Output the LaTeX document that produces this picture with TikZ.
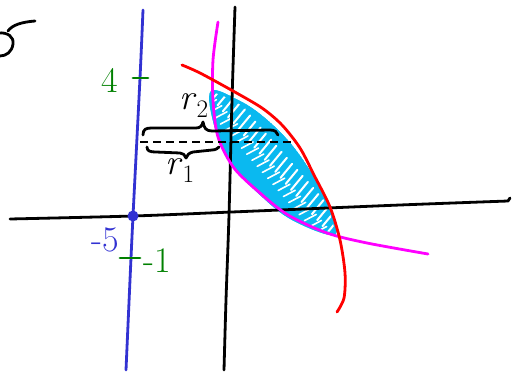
\documentclass[tikz,border=0pt]{standalone}
\usetikzlibrary{calc}
\definecolor{penblue}{RGB}{50,50,210}
\definecolor{pengreen}{RGB}{0,128,0}
\definecolor{penmag}{RGB}{255,0,255}
\definecolor{penred}{RGB}{255,0,0}
\definecolor{pencyan}{RGB}{10,185,240}
\tikzset{
  pen/.style={line width=2.8pt, line cap=round, line join=round},
  axis/.style={pen, black},
  lbl/.style={inner sep=0pt, font=\fontsize{36}{38}\selectfont},
}
\begin{document}
\begin{tikzpicture}[x=1pt,y=-1pt]
\useasboundingbox (0,0) rectangle (518,377);
% partial "5" at top left
\draw[axis] (35,21) .. controls (22,22) and (12,25) .. (8,31);
\draw[axis] (-2,33) .. controls (8,32) and (14,37) .. (13,44) .. controls (12,52) and (6,56) .. (0,56);
% shaded lens
\begin{scope}
  \clip plot[smooth cycle, tension=0.6] coordinates {(211,91) (214,125) (230,163) (260,195) (292,220) (334,235) (332,210) (316,180) (292,145) (265,118) (240,101)};
  \fill[pencyan] plot[smooth cycle, tension=0.6] coordinates {(211,91) (214,125) (230,163) (260,195) (292,220) (334,235) (332,210) (316,180) (292,145) (265,118) (240,101)};
  \begin{scope}[shift={(212,93)}, rotate=-49]
    \foreach \i in {0,...,24} {
      \draw[white, line width=2pt, line cap=round] (\i*8+2,-14) -- (\i*8+5,4);
      \draw[white, line width=1.6pt, line cap=round] (\i*8+5,14) -- (\i*8+8,1);
    }
  \end{scope}
  \draw[pencyan, line width=6pt] plot[smooth cycle, tension=0.6] coordinates {(211,91) (214,125) (230,163) (260,195) (292,220) (334,235) (332,210) (316,180) (292,145) (265,118) (240,101)};
\end{scope}
% axes
\draw[axis] plot[smooth] coordinates {(10,219) (133,216) (232,212) (400,205) (508,201)} -- (510,198);
\draw[axis] plot[smooth] coordinates {(235,7) (232,100) (229,215) (226,300) (224,370)};
% blue vertical line
\draw[pen, penblue] plot[smooth] coordinates {(143,10) (140,78) (133,216) (130,280) (126,370)};
% magenta curve
\draw[pen, penmag] plot[smooth] coordinates {(218,22) (213,60) (213,100) (218,137) (234,168) (260,193) (288,215) (327,233) (367,243) (428,254)};
% red curve
\draw[pen, penred] plot[smooth] coordinates {(182,65) (200,73) (233,91) (262,108) (282,125) (300,148) (314,175) (330,207) (340,240) (345,273) (344,298) (337,312)};
% braces and dashed line
\draw[axis] (143,135) .. controls (143,129) and (146,128) .. (152,128) -- (196,128) .. controls (200,128) and (202,126) .. (203,122) .. controls (204,128) and (206,131) .. (212,131) -- (270,130) .. controls (275,130) and (277,132) .. (278,135);
\draw[axis, line cap=butt, dash pattern=on 8pt off 5pt] (140,142) -- (292,142);
\draw[axis] (147,147) .. controls (147,151) and (150,152) .. (156,152) -- (180,153) .. controls (183,153) and (185,155) .. (186,158) .. controls (187,155) and (189,153) .. (193,152) -- (212,150) .. controls (216,150) and (218,148) .. (219,147);
% ticks
\draw[pen, pengreen] (133,78) -- (148,78);
\draw[pen, pengreen] (120,258) -- (140,258);
% point
\fill[penblue] (133,216) circle (5.5);
% labels
\node[lbl, pengreen] (four) at (110,80) {4};
\node[lbl, penblue] (mfive) at (105,240) {-5};
\node[lbl, pengreen] (mone) at (157,261) {-1};
\node[lbl] (rtwo) at (194,106) {\textit{r}\textsubscript{2}};
\node[lbl] (rone) at (180,171) {\textit{r}\textsubscript{1}};
\end{tikzpicture}
\end{document}
